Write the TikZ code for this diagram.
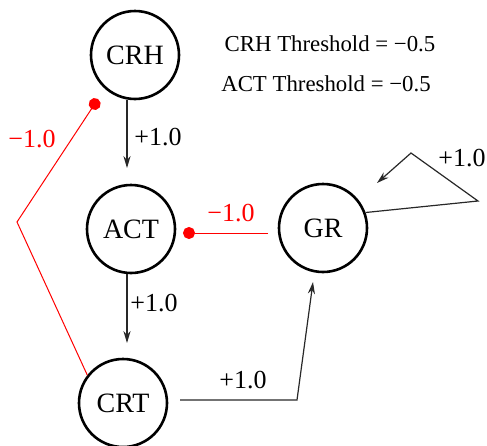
\documentclass[tikz,border=0pt]{standalone}
\usepackage{fontspec}
\setmainfont{Liberation Serif}
\usetikzlibrary{arrows.meta}
\definecolor{inhibred}{RGB}{255,0,0}
\definecolor{linegray}{RGB}{40,40,40}
\tikzset{
  cell/.style={circle, draw, line width=1.3pt, minimum size=44pt,
               inner sep=0pt, font=\fontsize{14}{16}\selectfont},
  excite/.style={-{Stealth[length=6pt,width=3.6pt]}, line width=0.6pt,
                 draw=linegray},
  inhib/.style={-{Circle[length=6pt]}, draw=inhibred, line width=0.5pt},
  weight/.style={font=\fontsize{13}{15}\selectfont},
  inhibweight/.style={weight, text=inhibred},
  thresh/.style={font=\fontsize{11.4}{13}\selectfont}
}

\begin{document}
\begin{tikzpicture}[x=0.5pt, y=-0.5pt]
  \useasboundingbox (0,0) rectangle (487,445);
  % cells
  \node[cell] (crh) at (135,55) {CRH};
  \node[cell] (act) at (131,229) {ACT};
  \node[cell] (gr) at (323,228) {GR};
  \node[cell] (crt) at (123,403) {CRT};
  % free ends
  \coordinate (crhTip) at (127,168);
  \coordinate (actTip) at (127,343);
  \coordinate (crhDot) at (98,99);
  \coordinate (bend) at (17,222);
  \coordinate (grOut) at (268,233);
  \coordinate (actDot) at (183,233);
  \coordinate (crtOut) at (180,400);
  \coordinate (crtCorner) at (297,400);
  \coordinate (grTip) at (313,282);
  \coordinate (loopA) at (478,201);
  \coordinate (loopB) at (411,153);
  \coordinate (loopTip) at (377,183);
  % excitatory links
  \draw[excite] (crh.south -| crhTip) -- (crhTip);
  \draw[excite] (act.south -| actTip) -- (actTip);
  \draw[excite] (crtOut) -- (crtCorner) -- (grTip);
  \draw[excite] (gr.20) -- (loopA) -- (loopB) -- (loopTip);
  % inhibitory links
  \draw[inhib] (crt.142) -- (bend) -- (crhDot);
  \draw[inhib] (grOut) -- (actDot);
  % weights
  \node[weight] (wCrhAct) at (158,137) {+1.0};
  \node[weight] (wActCrt) at (154,303) {+1.0};
  \node[weight] (wCrtGr) at (243,380) {+1.0};
  \node[weight] (wGrGr) at (462,158) {+1.0};
  \node[inhibweight] (wCrtCrh) at (32,139) {−1.0};
  \node[inhibweight] (wGrAct) at (231,213) {−1.0};
  % thresholds
  \node[thresh] (thCrh) at (330,44) {CRH Threshold = −0.5};
  \node[thresh] (thAct) at (326,84) {ACT Threshold = −0.5};
\end{tikzpicture}
\end{document}
